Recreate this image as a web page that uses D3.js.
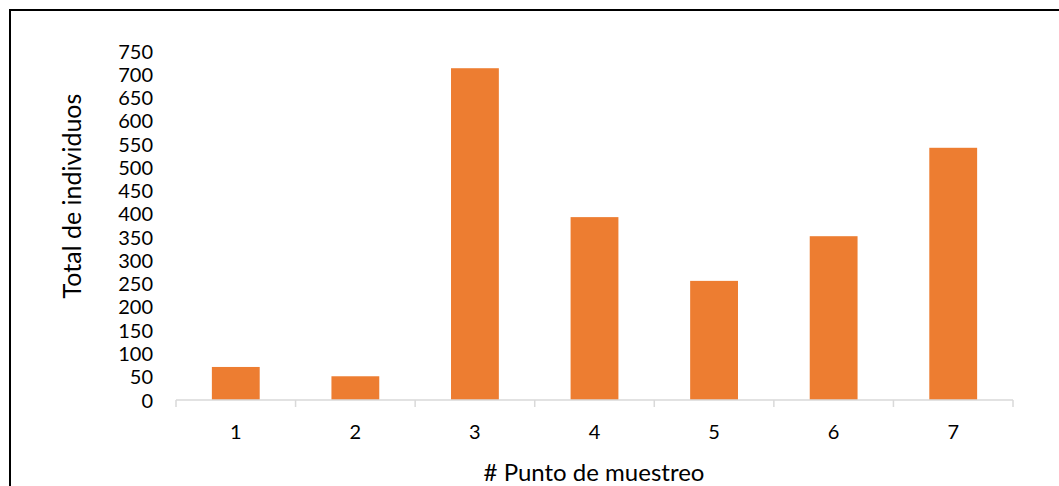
<!DOCTYPE html>
<html>
<head>
<meta charset="utf-8">
<script src="https://cdn.jsdelivr.net/npm/d3@7"></script>
<style>
  html, body { margin: 0; padding: 0; background: #fff; }
  svg { display: block; }
  text { font-family: Lato, "Open Sans", sans-serif; fill: #000; }
</style>
</head>
<body>
<svg id="chart" width="1059" height="486"></svg>
<script>
const categories = ["1", "2", "3", "4", "5", "6", "7"];
const values = [71, 51, 713, 393, 256, 352, 542];
const yTicks = [0, 50, 100, 150, 200, 250, 300, 350, 400, 450, 500, 550, 600, 650, 700, 750];
const xTitle = "# Punto de muestreo";
const yTitle = "Total de individuos";

const svg = d3.select("#chart");
const W = 1059, H = 486;

// outer border (top and left visible)
svg.append("path")
  .attr("d", `M10,${H} L10,10 L${W},10`)
  .attr("fill", "none")
  .attr("stroke", "#000")
  .attr("stroke-width", 2);

const x = d3.scaleBand().domain(categories).range([176, 1013]).paddingInner(0.6).paddingOuter(0.3);
const y = d3.scaleLinear().domain([0, 750]).range([400, 51]);

// bars
svg.append("g").selectAll("rect")
  .data(values)
  .join("rect")
  .attr("x", (d, i) => x(categories[i]))
  .attr("width", x.bandwidth())
  .attr("y", d => y(d))
  .attr("height", d => y(0) - y(d))
  .attr("fill", "#ED7D31");

// y axis labels (no line)
const yAxis = d3.axisLeft(y).tickValues(yTicks).tickSize(0).tickPadding(0);
const gy = svg.append("g").attr("transform", "translate(153,0)").call(yAxis);
gy.select(".domain").remove();
gy.selectAll("text").attr("font-size", 20).attr("font-family", "Lato").attr("fill", "#000").attr("dy", "0.35em");

// x axis line with ticks at band boundaries
const gx = svg.append("g");
const x0 = 176, x1 = 1013;
gx.append("line").attr("x1", x0).attr("x2", x1).attr("y1", 400).attr("y2", 400)
  .attr("stroke", "#d9d9d9").attr("stroke-width", 1.5);
const bounds = d3.range(categories.length + 1).map(i => x0 + i * (x1 - x0) / categories.length);
gx.selectAll("line.tick").data(bounds).join("line").attr("class", "tick")
  .attr("x1", d => d).attr("x2", d => d).attr("y1", 400).attr("y2", 407)
  .attr("stroke", "#d9d9d9").attr("stroke-width", 1.5);
gx.selectAll("text").data(categories).join("text")
  .attr("x", d => x(d) + x.bandwidth() / 2)
  .attr("y", 439)
  .attr("text-anchor", "middle")
  .attr("font-size", 20)
  .text(d => d);

// titles
svg.append("text")
  .attr("x", 594).attr("y", 481)
  .attr("text-anchor", "middle")
  .attr("font-size", 24)
  .text(xTitle);

svg.append("text")
  .attr("transform", "translate(81,196) rotate(-90)")
  .attr("text-anchor", "middle")
  .attr("font-size", 25)
  .text(yTitle);
</script>
</body>
</html>
